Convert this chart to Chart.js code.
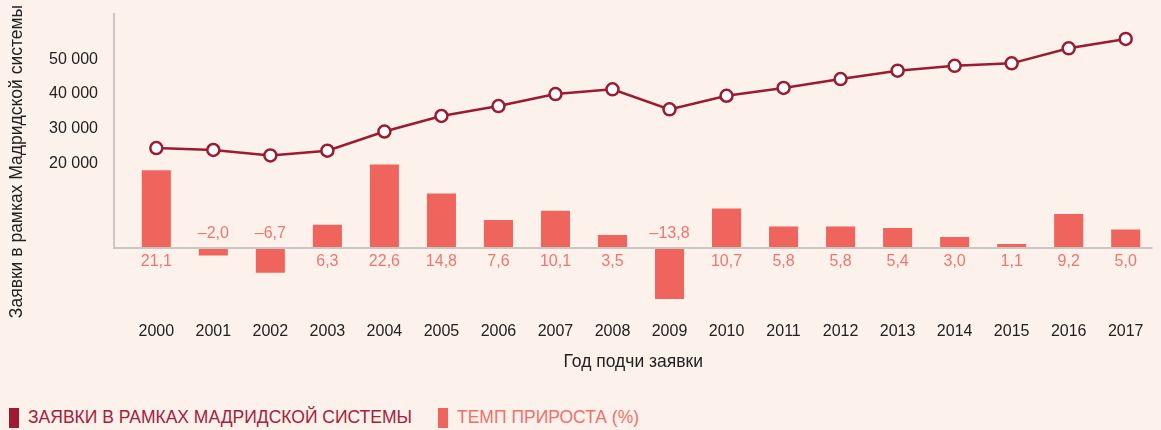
<!DOCTYPE html>
<html lang="ru">
<head>
<meta charset="utf-8">
<script src="https://cdn.jsdelivr.net/npm/chart.js"></script>
<style>
  html, body { margin: 0; padding: 0; background: #fdf1ec; }
  #wrap { position: relative; width: 1161px; height: 430px; font-family: "Liberation Sans", Arial, sans-serif; }
  .leg { position: absolute; top: 407px; display: flex; align-items: center; font-size: 17.5px; white-space: nowrap; }
  .leg i { display: inline-block; width: 10px; height: 20px; margin-right: 9px; }
</style>
</head>
<body>
<div id="wrap">
  <canvas id="chart" width="1161" height="395"></canvas>
  <div class="leg" style="left:9px;color:#a8203a"><i style="background:#a01b31"></i>ЗАЯВКИ В РАМКАХ МАДРИДСКОЙ СИСТЕМЫ</div>
  <div class="leg" style="left:438px;color:#f0706a"><i style="background:#ef655d"></i>ТЕМП ПРИРОСТА (%)</div>
</div>
<script>
const years = ["2000", "2001", "2002", "2003", "2004", "2005", "2006", "2007", "2008",
  "2009", "2010", "2011", "2012", "2013", "2014", "2015", "2016", "2017"];
const applications = [24500, 23950, 22400, 23750, 29250, 33700, 36550, 40000, 41350,
  35600, 39500, 41750, 44300, 46700, 48100, 48800, 53100, 55800];
const growth = [21.1, -2.0, -6.7, 6.3, 22.6, 14.8, 7.6, 10.1, 3.5,
  -13.8, 10.7, 5.8, 5.8, 5.4, 3.0, 1.1, 9.2, 5.0];
const countTicks = [20000, 30000, 40000, 50000];

const font = "'Liberation Sans', Arial, sans-serif";
const ink = "#222222";

function spaced(v) {
  return String(v).replace(/\B(?=(\d{3})+(?!\d))/g, " ");
}
function pct(v) {
  return v.toFixed(1).replace(".", ",").replace("-", "\u2013");
}
function noPad(s) {
  s.paddingLeft = s.paddingRight = s.paddingTop = s.paddingBottom = 0;
}

// axis lines + value labels under / over the zero line
const extras = {
  id: "extras",
  afterDatasetsDraw(chart) {
    const { ctx, chartArea } = chart;
    const zero = chart.scales.y2.getPixelForValue(0);
    ctx.save();
    ctx.strokeStyle = "#c9c6c3";
    ctx.lineWidth = 2;
    ctx.beginPath();
    ctx.moveTo(chartArea.left, chartArea.top);
    ctx.lineTo(chartArea.left, zero);
    ctx.lineTo(chartArea.right, zero);
    ctx.stroke();

    const meta = chart.getDatasetMeta(0);
    ctx.font = "16px " + font;
    ctx.fillStyle = "#f2756d";
    ctx.textAlign = "center";
    ctx.textBaseline = "middle";
    meta.data.forEach((bar, i) => {
      const v = growth[i];
      ctx.fillText(pct(v), bar.x, v >= 0 ? zero + 14 : zero - 14);
    });
    ctx.restore();
  }
};

new Chart(document.getElementById("chart"), {
  data: {
    datasets: [{
      type: "bar",
      label: "ТЕМП ПРИРОСТА (%)",
      data: growth.map((v, i) => ({ x: i, y: v })),
      yAxisID: "y2",
      backgroundColor: "#ef655d",
      barPercentage: 0.51,
      categoryPercentage: 1,
      order: 1
    }, {
      type: "line",
      label: "ЗАЯВКИ В РАМКАХ МАДРИДСКОЙ СИСТЕМЫ",
      data: applications.map((v, i) => ({ x: i, y: v })),
      yAxisID: "y",
      borderColor: "#9b1b30",
      borderWidth: 2.5,
      pointRadius: 6,
      pointBorderWidth: 2.5,
      pointBackgroundColor: "#ffffff",
      pointBorderColor: "#9b1b30",
      tension: 0,
      order: 0
    }]
  },
  options: {
    responsive: false,
    animation: false,
    layout: { padding: { top: 13, right: 0, left: 0, bottom: 0 } },
    plugins: { legend: { display: false }, tooltip: { enabled: false } },
    scales: {
      x: {
        type: "linear",
        offset: false,
        min: -0.742,
        max: 17.47,
        grid: { display: false, drawTicks: false, offset: false },
        border: { display: false },
        afterBuildTicks: s => { s.ticks = years.map((_, i) => ({ value: i })); },
        afterFit: s => { s.height = 85; noPad(s); },
        ticks: {
          autoSkip: false, maxRotation: 0, padding: 12,
          color: ink, font: { family: font, size: 16 },
          callback: v => years[v]
        },
        title: {
          display: true, text: "Год подчи заявки", color: ink,
          font: { family: font, size: 17.5 }, padding: { top: 0, bottom: 22 }
        }
      },
      y: {
        position: "left",
        min: -21939,
        max: 63236,
        grid: { display: false, drawTicks: false },
        border: { display: false },
        afterBuildTicks: s => { s.ticks = countTicks.map(v => ({ value: v })); },
        afterFit: s => { s.width = 114; noPad(s); },
        ticks: {
          padding: 16, color: ink, font: { family: font, size: 16 },
          callback: v => spaced(v)
        },
        title: {
          display: true, text: "Заявки в рамках Мадридской системы", color: ink,
          font: { family: font, size: 17.5 }, padding: { top: 7, bottom: 0 }
        }
      },
      y2: {
        display: false,
        min: -16.8,
        max: 63.69
      }
    }
  },
  plugins: [extras]
});
</script>
</body>
</html>
